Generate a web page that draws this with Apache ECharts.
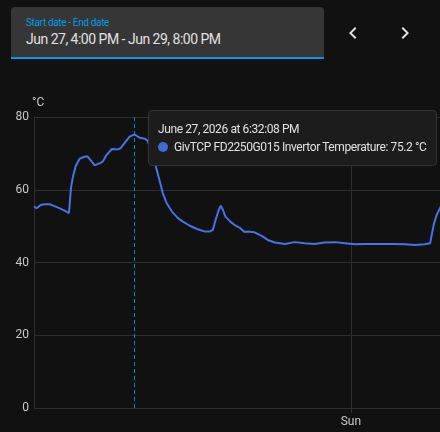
<!DOCTYPE html>
<html>
<head>
<meta charset="utf-8">
<script src="https://cdn.jsdelivr.net/npm/echarts@6/dist/echarts.min.js"></script>
<style>
  html, body { margin: 0; padding: 0; background: #111111; font-family: Roboto, "Noto Sans", sans-serif; }
  #wrap { position: relative; width: 440px; height: 432px; overflow: hidden; }
  #chart { position: absolute; left: 0; top: 0; width: 440px; height: 432px; }
  .picker {
    position: absolute; left: 11px; top: 7px; width: 313px; height: 50px;
    background: #363636; border-radius: 4px 4px 0 0; border-bottom: 2px solid #039be5;
  }
  .picker .lbl { position: absolute; left: 15px; top: 10px; font-size: 10px; letter-spacing: -0.35px; color: #039be5; }
  .picker .val { position: absolute; left: 15px; top: 24px; font-size: 14px; letter-spacing: -0.5px; color: #e1e1e1; }
  .nav { position: absolute; top: 21px; width: 24px; height: 24px; }
</style>
</head>
<body>
<div id="wrap">
  <div id="chart"></div>
  <div class="picker">
    <div class="lbl">Start date - End date</div>
    <div class="val">Jun 27, 4:00 PM - Jun 29, 8:00 PM</div>
  </div>
  <svg class="nav" style="left:341px" viewBox="0 0 24 24"><path fill="#e1e1e1" d="M15.41,16.58L10.83,12L15.41,7.41L14,6L8,12L14,18L15.41,16.58Z"/></svg>
  <svg class="nav" style="left:393px" viewBox="0 0 24 24"><path fill="#e1e1e1" d="M8.59,16.58L13.17,12L8.59,7.41L10,6L16,12L10,18L8.59,16.58Z"/></svg>
</div>
<script>
// 读图得到的数据（时间 + 温度）
const seriesName = 'GivTCP FD2250G015 Invertor Temperature'
const unit = '°C'
const yTicks = [0, 20, 40, 60, 80]
const xMin = '2026-06-27 16:00'
const xMax = '2026-06-28 02:15'
const hoverTime = '2026-06-27 18:32:08'

const times = [
  '2026-06-27 16:00', '2026-06-27 16:04', '2026-06-27 16:10', '2026-06-27 16:16', '2026-06-27 16:24',
  '2026-06-27 16:31', '2026-06-27 16:39', '2026-06-27 16:47', '2026-06-27 16:53', '2026-06-27 16:56',
  '2026-06-27 16:59', '2026-06-27 17:03', '2026-06-27 17:09', '2026-06-27 17:15', '2026-06-27 17:21',
  '2026-06-27 17:24', '2026-06-27 17:32', '2026-06-27 17:40', '2026-06-27 17:44', '2026-06-27 17:50',
  '2026-06-27 17:58', '2026-06-27 18:07', '2026-06-27 18:11', '2026-06-27 18:17', '2026-06-27 18:25',
  '2026-06-27 18:32:08', '2026-06-27 18:40', '2026-06-27 18:48', '2026-06-27 18:52', '2026-06-27 18:57',
  '2026-06-27 19:03', '2026-06-27 19:10', '2026-06-27 19:15', '2026-06-27 19:21', '2026-06-27 19:29',
  '2026-06-27 19:38', '2026-06-27 19:45', '2026-06-27 19:56', '2026-06-27 20:07', '2026-06-27 20:19',
  '2026-06-27 20:26', '2026-06-27 20:31', '2026-06-27 20:35', '2026-06-27 20:40', '2026-06-27 20:43',
  '2026-06-27 20:46', '2026-06-27 20:50', '2026-06-27 20:57', '2026-06-27 21:04', '2026-06-27 21:12',
  '2026-06-27 21:19', '2026-06-27 21:24', '2026-06-27 21:34', '2026-06-27 21:45', '2026-06-27 21:54',
  '2026-06-27 22:05', '2026-06-27 22:20', '2026-06-27 22:35', '2026-06-27 22:50', '2026-06-27 23:05',
  '2026-06-27 23:20', '2026-06-27 23:36', '2026-06-27 23:51', '2026-06-28 00:06', '2026-06-28 00:21',
  '2026-06-28 00:36', '2026-06-28 00:51', '2026-06-28 01:06', '2026-06-28 01:22', '2026-06-28 01:37',
  '2026-06-28 01:52', '2026-06-28 02:00', '2026-06-28 02:03', '2026-06-28 02:06', '2026-06-28 02:10',
  '2026-06-28 02:15', '2026-06-28 02:20'
]
const temps = [
  55.4, 54.9, 55.8, 56.0, 56.0,
  55.5, 54.9, 54.2, 53.6, 60.5,
  63.6, 66.4, 68.5, 69.0, 69.2,
  68.9, 66.7, 67.3, 67.7, 69.6,
  71.2, 71.1, 71.4, 72.8, 74.6,
  75.2, 74.3, 74.0, 73.5, 71.0,
  67.4, 62.7, 59.1, 56.3, 54.0,
  52.2, 51.3, 50.1, 49.2, 48.5,
  48.5, 49.0, 51.7, 54.5, 55.6,
  54.5, 52.6, 51.3, 50.3, 49.5,
  48.4, 48.5, 48.3, 47.3, 46.2,
  45.5, 45.1, 45.6, 45.3, 45.1,
  45.5, 45.6, 45.3, 45.0, 45.1,
  45.1, 45.1, 45.1, 45.0, 44.8,
  45.0, 45.3, 48.1, 50.8, 53.1,
  54.9, 57.0
]

const days = ['Sun', 'Mon', 'Tue', 'Wed', 'Thu', 'Fri', 'Sat']

const chart = echarts.init(document.getElementById('chart'))

chart.setOption({
  animation: false,
  backgroundColor: 'transparent',
  textStyle: { fontFamily: 'Roboto' },
  grid: { left: 34, right: 0, top: 117, bottom: 24, containLabel: false },
  tooltip: {
    trigger: 'axis',
    alwaysShowContent: true,
    transitionDuration: 0,
    backgroundColor: '#1c1c1c',
    borderColor: '#333333',
    borderWidth: 1,
    padding: [9, 10, 9, 9],
    extraCssText: 'border-radius:4px;box-shadow:none;letter-spacing:-0.4px;',
    textStyle: { color: '#e1e1e1', fontSize: 12, fontFamily: 'Roboto' },
    position: () => [148, 110],
    axisPointer: {
      type: 'line',
      snap: true,
      label: { show: false },
      lineStyle: { color: '#0288d1', width: 1, type: [4, 3] }
    },
    formatter: (params) => {
      const p = params[0]
      const d = new Date(p.value[0])
      const date = d.toLocaleDateString('en-US', { month: 'long', day: 'numeric', year: 'numeric' })
      const time = d.toLocaleTimeString('en-US')
      return '<div style="line-height:18px">' + date + ' at ' + time + '</div>' +
        '<div style="line-height:18px"><span style="display:inline-block;width:10px;height:10px;border-radius:5px;background:#4269d0;margin-right:6px;vertical-align:-1px"></span>' +
        p.seriesName + ': ' + p.value[1] + ' ' + unit + '</div>'
    }
  },
  xAxis: {
    type: 'time',
    min: xMin,
    max: xMax,
    minInterval: 24 * 3600 * 1000,
    maxInterval: 24 * 3600 * 1000,
    axisLine: { show: false },
    axisTick: { show: true, length: 5, lineStyle: { color: '#2f2f2f' } },
    splitLine: { show: true, lineStyle: { color: '#2f2f2f' } },
    axisLabel: {
      color: '#c8c8c8', fontSize: 12, margin: 8, showMinLabel: false, showMaxLabel: false,
      formatter: (val) => {
        const d = new Date(val)
        return d.getHours() === 0 && d.getMinutes() === 0 ? days[d.getDay()] : ''
      }
    }
  },
  yAxis: {
    type: 'value',
    min: yTicks[0],
    max: yTicks[yTicks.length - 1],
    interval: 20,
    name: unit,
    nameGap: 8,
    nameTextStyle: { color: '#c8c8c8', fontSize: 12, align: 'left', padding: [0, 0, 0, -2] },
    axisLine: { show: true, lineStyle: { color: '#2f2f2f' } },
    axisTick: { show: false },
    splitLine: { show: true, lineStyle: { color: '#2f2f2f' } },
    axisLabel: { color: '#c8c8c8', fontSize: 12, margin: 5 }
  },
  series: [{
    name: seriesName,
    type: 'line',
    showSymbol: false,
    symbol: 'none',
    smooth: false,
    lineStyle: { color: '#4269d0', width: 2 },
    itemStyle: { color: '#4269d0' },
    data: times.map((t, i) => [t, temps[i]])
  }]
})

chart.dispatchAction({ type: 'showTip', seriesIndex: 0, dataIndex: times.indexOf(hoverTime) })
</script>
</body>
</html>
